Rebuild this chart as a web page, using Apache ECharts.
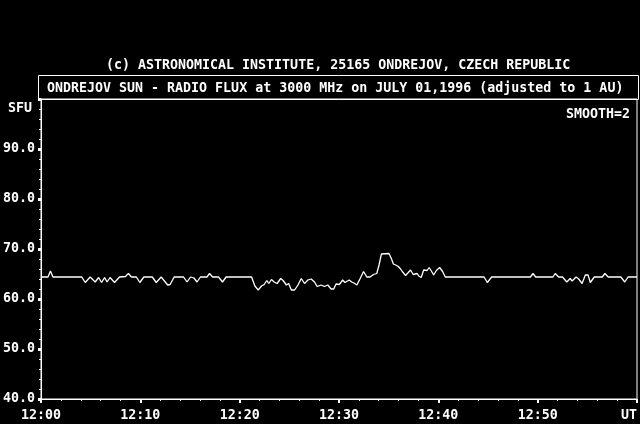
<!DOCTYPE html>
<html>
<head>
<meta charset="utf-8">
<script src="https://cdn.jsdelivr.net/npm/echarts@6/dist/echarts.min.js"></script>
<style>
html,body{margin:0;padding:0;background:#000;}
#chart{width:640px;height:424px;}
</style>
</head>
<body>
<div id="chart"></div>
<script>
// minutes after 12:00 UT
var times = [0,0.7,0.95,1.2,4.1,4.45,4.95,5.45,5.8,6.1,6.4,6.65,6.95,7.4,7.9,8.5,8.8,9.1,9.6,9.95,10.35,11.2,11.6,12.1,12.3,12.75,13.0,13.4,14.35,14.7,15.05,15.4,15.7,16.05,16.7,16.97,17.27,17.87,18.27,18.63,21.2,21.53,21.87,22.2,22.47,22.73,22.93,23.2,23.47,23.77,24.13,24.37,24.7,24.93,25.2,25.53,25.87,26.2,26.53,26.87,27.2,27.53,27.8,28.2,28.53,28.87,29.2,29.47,29.7,29.87,30.03,30.37,30.6,30.8,31.03,31.27,31.5,31.8,32.13,32.47,32.8,33.13,33.47,33.63,33.8,34.03,34.27,35.03,35.27,35.47,35.7,35.97,36.2,36.37,36.7,36.93,37.2,37.47,37.63,37.87,38.03,38.27,38.53,38.87,39.07,39.27,39.53,39.8,40.13,40.43,40.7,44.6,44.93,45.37,49.27,49.53,49.8,51.53,51.77,52.1,52.5,52.93,53.27,53.47,53.87,54.13,54.47,54.8,54.93,55.07,55.3,55.7,56.5,56.77,57.1,58.37,58.77,59.1,60];
// radio flux, SFU
var flux = [64.4,64.4,65.6,64.4,64.4,63.3,64.4,63.4,64.3,63.3,64.3,63.4,64.3,63.3,64.4,64.5,65.1,64.4,64.4,63.3,64.4,64.4,63.3,64.4,64.4,62.8,62.9,64.4,64.4,63.4,64.4,64.2,63.4,64.4,64.4,65.1,64.4,64.4,63.4,64.4,64.4,62.6,61.8,62.6,62.9,63.7,63.1,63.9,63.4,63.1,64.1,63.7,62.8,63.1,61.8,61.8,62.8,64.1,63.1,63.8,64.0,63.4,62.5,62.8,62.5,62.8,62.0,62.0,63.0,63.3,62.9,63.8,63.3,63.1,63.8,63.4,63.2,62.8,64.1,65.5,64.4,64.4,64.9,64.8,65.1,66.8,69.0,69.1,68.1,67.0,66.8,66.5,66.0,65.5,64.7,65.2,65.8,64.9,64.5,65.1,64.6,64.3,65.8,65.7,66.3,65.7,64.8,65.7,66.3,65.5,64.4,64.4,63.3,64.4,64.4,65.1,64.4,64.4,65.1,64.4,64.4,63.4,64.1,63.6,64.4,64.0,63.1,64.8,64.4,64.8,63.3,64.4,64.4,65.1,64.4,64.4,63.4,64.4,64.4];
var xTickLabels = ['12:00','12:10','12:20','12:30','12:40','12:50','UT'];
var titleTop = '(c) ASTRONOMICAL INSTITUTE, 25165 ONDREJOV, CZECH REPUBLIC';
var titleBox = 'ONDREJOV SUN - RADIO FLUX at 3000 MHz on JULY 01,1996 (adjusted to 1 AU)';

var FONT = '"DejaVu Sans Mono", "Liberation Mono", monospace';
var FS = 13.3;
var data = times.map(function(t,i){return [t, flux[i]];});

var chart = echarts.init(document.getElementById('chart'), null, {renderer:'canvas'});
chart.setOption({
  backgroundColor:'#000',
  animation:false,
  grid:{left:38,right:2,top:99,bottom:25,show:true,borderColor:'#fff',borderWidth:1,backgroundColor:'transparent'},
  xAxis:{
    type:'value',min:0,max:60,interval:10,
    axisLine:{show:true,lineStyle:{color:'#fff',width:1}},
    axisTick:{show:true,length:4,lineStyle:{color:'#fff',width:2}},
    minorTick:{show:true,splitNumber:5,length:2,lineStyle:{color:'#fff',width:1}},
    splitLine:{show:false},
    axisLabel:{color:'#fff',fontFamily:FONT,fontSize:FS,fontWeight:'bold',margin:10,
      alignMaxLabel:'right',
      formatter:function(v){return xTickLabels[Math.round(v/10)];}}
  },
  yAxis:{
    type:'value',min:40,max:100,interval:10,
    axisLine:{show:true,lineStyle:{color:'#fff',width:1}},
    axisTick:{show:true,length:3,lineStyle:{color:'#fff',width:3}},
    minorTick:{show:true,splitNumber:5,length:2,lineStyle:{color:'#fff',width:1}},
    splitLine:{show:false},
    axisLabel:{color:'#fff',fontFamily:FONT,fontSize:FS,fontWeight:'bold',margin:6,
      formatter:function(v){return v>=100?'':v.toFixed(1);}}
  },
  series:[{
    type:'line',data:data,showSymbol:false,symbol:'none',
    lineStyle:{color:'#fff',width:1.3},
    clip:true
  }],
  graphic:[
    {type:'text',left:106,top:59,style:{text:titleTop,fill:'#fff',font:'bold '+FS+'px '+FONT}},
    {type:'rect',shape:{x:38.5,y:75.5,width:600,height:24},style:{fill:'none',stroke:'#fff',lineWidth:1}},
    {type:'text',left:47,top:82,style:{text:titleBox,fill:'#fff',font:'bold '+FS+'px '+FONT}},
    {type:'text',right:608,top:102,style:{text:'SFU',fill:'#fff',font:'bold '+FS+'px '+FONT}},
    {type:'text',right:10,top:108,style:{text:'SMOOTH=2',fill:'#fff',font:'bold '+FS+'px '+FONT}}
  ]
});
</script>
</body>
</html>
